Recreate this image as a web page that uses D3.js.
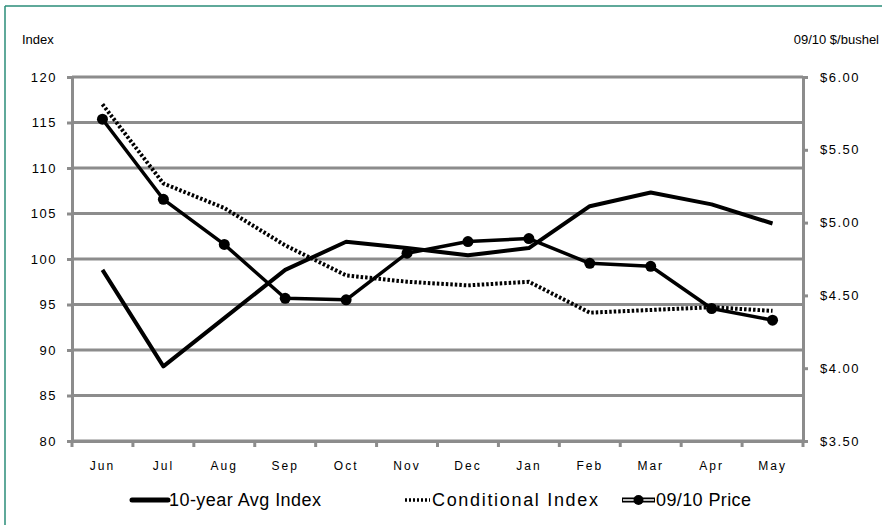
<!DOCTYPE html>
<html>
<head>
<meta charset="utf-8">
<script src="https://cdn.jsdelivr.net/npm/d3@7"></script>
<style>
  body { margin: 0; background: #fff; }
  text { font-family: "Liberation Sans", Arial, sans-serif; fill: #000; }
</style>
</head>
<body>
<svg width="882" height="525"></svg>
<script>
const months = ["Jun", "Jul", "Aug", "Sep", "Oct", "Nov", "Dec", "Jan", "Feb", "Mar", "Apr", "May"];
const avgIndex = [98.8, 88.2, 93.5, 98.8, 101.9, 101.2, 100.4, 101.2, 105.8, 107.3, 106.0, 103.9];
const condIndex = [117.0, 108.3, 105.6, 101.5, 98.2, 97.5, 97.1, 97.5, 94.1, 94.4, 94.7, 94.3];
const price = [5.71, 5.16, 4.85, 4.48, 4.47, 4.79, 4.87, 4.89, 4.72, 4.70, 4.41, 4.33];
const leftTicks = [80, 85, 90, 95, 100, 105, 110, 115, 120];
const rightTicks = [3.5, 4.0, 4.5, 5.0, 5.5, 6.0];

const svg = d3.select("svg");
const plotL = 72, plotR = 803, plotT = 77, plotB = 441;

// frame lines (top and left edge)
svg.append("line").attr("x1", 5).attr("x2", 882).attr("y1", 6).attr("y2", 6)
  .attr("stroke", "#2a8c78").attr("stroke-width", 1.5);
svg.append("line").attr("x1", 5).attr("x2", 5).attr("y1", 6).attr("y2", 525)
  .attr("stroke", "#2a8c78").attr("stroke-width", 1.5);

const x = d3.scaleBand().domain(months).range([plotL, plotR]);
const y = d3.scaleLinear().domain([80, 120]).range([plotB, plotT]);
const y2 = d3.scaleLinear().domain([3.5, 6.0]).range([plotB, plotT]);
const cx = d => x(d) + x.bandwidth() / 2;

// gridlines
svg.append("g").selectAll("line").data(leftTicks).enter().append("line")
  .attr("x1", plotL).attr("x2", plotR)
  .attr("y1", d => y(d)).attr("y2", d => y(d))
  .attr("stroke", "#8c8c8c").attr("stroke-width", 3);

// left axis
const gl = svg.append("g").attr("transform", `translate(${plotL},0)`)
  .call(d3.axisLeft(y).tickValues(leftTicks).tickSize(5).tickPadding(10).tickFormat(d3.format("d")));
gl.select(".domain").attr("stroke", "#8c8c8c").attr("stroke-width", 3);
gl.selectAll(".tick line").attr("stroke", "#8c8c8c").attr("stroke-width", 3);
gl.selectAll(".tick text").attr("font-size", 13).attr("letter-spacing", 1.5).attr("font-family", "Liberation Sans");

// right axis
const gr = svg.append("g").attr("transform", `translate(${plotR},0)`)
  .call(d3.axisRight(y2).tickValues(rightTicks).tickSize(5).tickPadding(12).tickFormat(d => "$" + d.toFixed(2)));
gr.select(".domain").attr("stroke", "#8c8c8c").attr("stroke-width", 3);
gr.selectAll(".tick line").attr("stroke", "#8c8c8c").attr("stroke-width", 3);
gr.selectAll(".tick text").attr("font-size", 13).attr("letter-spacing", 1.5).attr("font-family", "Liberation Sans");

// bottom axis
const gb = svg.append("g").attr("transform", `translate(0,${plotB})`)
  .call(d3.axisBottom(x).tickSize(0).tickPadding(20));
gb.select(".domain").attr("stroke", "#8c8c8c").attr("stroke-width", 3);
gb.selectAll(".tick text").attr("font-size", 12).attr("letter-spacing", 2).attr("font-family", "Liberation Sans");
svg.append("g").selectAll("line").data(d3.range(months.length + 1)).enter().append("line")
  .attr("x1", i => plotL + i * x.step()).attr("x2", i => plotL + i * x.step())
  .attr("y1", plotB).attr("y2", plotB + 6)
  .attr("stroke", "#8c8c8c").attr("stroke-width", 3);

// axis titles
svg.append("text").attr("x", 22).attr("y", 44).attr("font-size", 13).text("Index");
svg.append("text").attr("x", 879).attr("y", 44).attr("font-size", 13).attr("text-anchor", "end").text("09/10 $/bushel");

// series
const lineL = d3.line().x((d, i) => cx(months[i])).y(d => y(d));
const lineR = d3.line().x((d, i) => cx(months[i])).y(d => y2(d));

svg.append("path").datum(condIndex).attr("d", lineL).attr("fill", "none")
  .attr("stroke", "#000").attr("stroke-width", 4).attr("stroke-dasharray", "2.5,2");
svg.append("path").datum(avgIndex).attr("d", lineL).attr("fill", "none")
  .attr("stroke", "#000").attr("stroke-width", 4).attr("stroke-linejoin", "round");
svg.append("path").datum(price).attr("d", lineR).attr("fill", "none")
  .attr("stroke", "#000").attr("stroke-width", 3.5).attr("stroke-linejoin", "round");
svg.append("g").selectAll("circle").data(price).enter().append("circle")
  .attr("cx", (d, i) => cx(months[i])).attr("cy", d => y2(d)).attr("r", 5.5).attr("fill", "#000");

// legend
const ly = 500;
const lg = svg.append("g");
lg.append("line").attr("x1", 132).attr("x2", 168).attr("y1", ly).attr("y2", ly)
  .attr("stroke", "#000").attr("stroke-width", 5).attr("stroke-linecap", "round");
lg.append("text").attr("x", 169).attr("y", ly + 6).attr("font-size", 18)
  .attr("textLength", 152).attr("lengthAdjust", "spacing").text("10-year Avg Index");
lg.append("line").attr("x1", 405).attr("x2", 430).attr("y1", ly).attr("y2", ly)
  .attr("stroke", "#000").attr("stroke-width", 3.5).attr("stroke-dasharray", "2,2");
lg.append("text").attr("x", 432).attr("y", ly + 6).attr("font-size", 18)
  .attr("textLength", 166).attr("lengthAdjust", "spacing").text("Conditional Index");
lg.append("line").attr("x1", 622).attr("x2", 655).attr("y1", ly).attr("y2", ly)
  .attr("stroke", "#000").attr("stroke-width", 5);
lg.append("line").attr("x1", 623).attr("x2", 654).attr("y1", ly).attr("y2", ly)
  .attr("stroke", "#fff").attr("stroke-width", 1.5);
lg.append("circle").attr("cx", 638.5).attr("cy", ly).attr("r", 5).attr("fill", "#000");
lg.append("text").attr("x", 656).attr("y", ly + 6).attr("font-size", 18)
  .attr("textLength", 95).attr("lengthAdjust", "spacing").text("09/10 Price");
</script>
</body>
</html>
